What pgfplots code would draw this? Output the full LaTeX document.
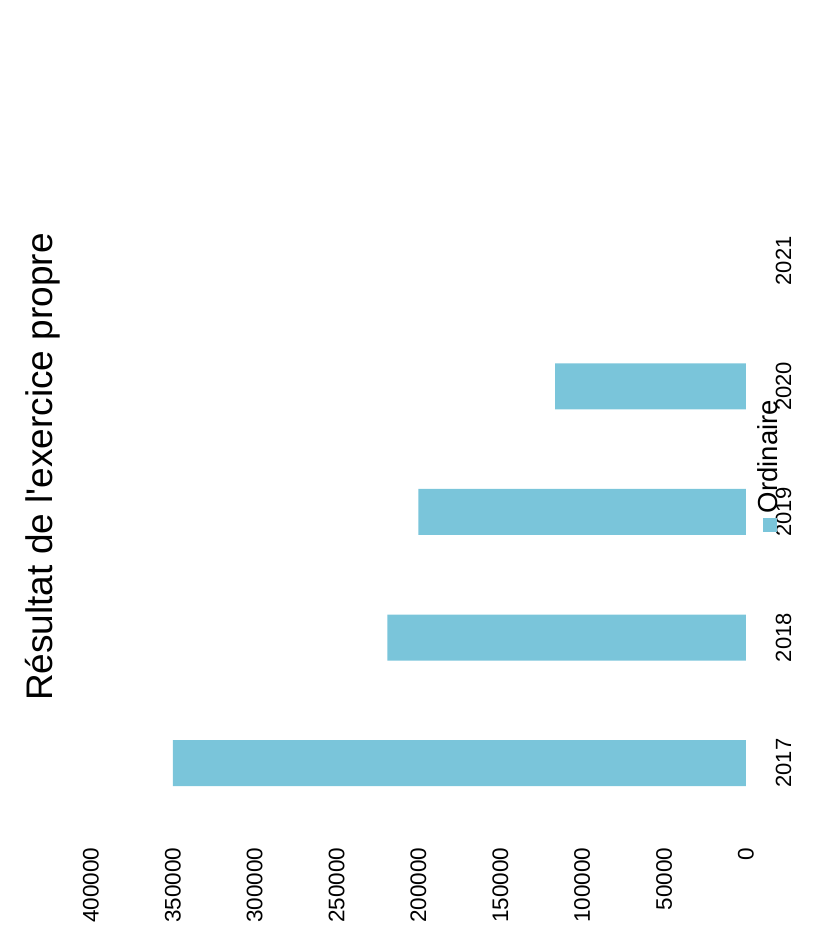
\documentclass[border=0pt]{standalone}
\usepackage{pgfplots}
\pgfplotsset{compat=1.18}
\usepackage{fontspec}
\setmainfont{Liberation Sans}
\definecolor{barblue}{RGB}{122,197,218}
\begin{document}
\begin{tikzpicture}
\useasboundingbox (0,0) rectangle (813pt,945pt);
\begin{axis}[
  at={(91pt,119pt)}, anchor=south west,
  scale only axis, width=655pt, height=628pt,
  xbar, bar width=46pt,
  x dir=reverse,
  xmin=0, xmax=400000,
  ymin=-0.5, ymax=4.5,
  axis line style={draw=none},
  tick style={draw=none},
  xtick={0,50000,...,400000},
  ytick={0,1,2,3,4},
  yticklabels={2017,2018,2019,2020,2021},
  yticklabel pos=right,
  scaled x ticks=false,
  /pgf/number format/assume math mode=true,
  xticklabel={\pgfmathprintnumber[fixed,1000 sep={}]{\tick}},
  xticklabel style={rotate=90, anchor=east, font=\fontsize{22.5}{26}\selectfont},
  yticklabel style={rotate=90, anchor=north, font=\fontsize{22}{26}\selectfont},
  xticklabel shift=18pt,
  yticklabel shift=22pt,
]
\addplot[fill=barblue, draw=none] coordinates {
  (350000,0) (219000,1) (200000,2) (116500,3)
};
\end{axis}
\node[rotate=90, anchor=base, font=\fontsize{37}{44}\selectfont] at (52pt,478pt) {Résultat de l\textquotesingle exercice propre};
\node[rotate=90, anchor=base west, font=\fontsize{27.5}{32}\selectfont, inner sep=0pt] at (777pt,413pt)
  {\textcolor{barblue}{\rule{14pt}{14pt}}\,Ordinaire};
\end{tikzpicture}
\end{document}
